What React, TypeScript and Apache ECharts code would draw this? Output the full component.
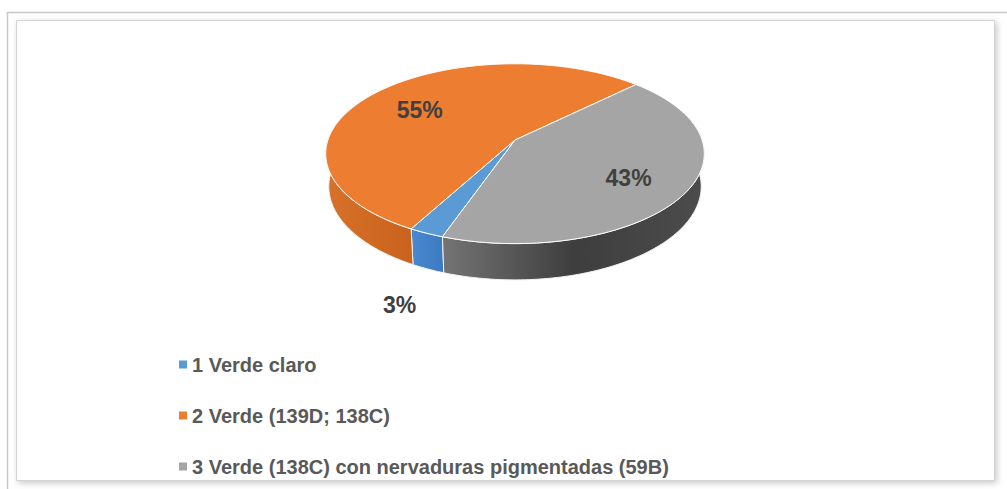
import React, { useEffect, useRef } from 'react';
import * as echarts from 'echarts';

const categories = [
  '1 Verde claro',
  '2 Verde (139D; 138C)',
  '3 Verde (138C) con nervaduras pigmentadas (59B)',
];
const values = [2.6, 54.7, 42.7];
const topColors = ['#5B9BD5', '#ED7D31', '#A5A5A5'];
const sideStops = [
  ['#4a89cf', '#3b79c0'],
  ['#d8722a', '#c8621c'],
  ['#747474', '#3e3e3e', '#4c4c4c'],
];

const START_DEG = 199.4;
const CX = 515;
const CY = 140;
const F = 1085;
const D = 5.8;
const ALPHA = (28 * Math.PI) / 180;
const H = 0.2;

const total = values.reduce((a, b) => a + b, 0);

function sliceRange(i: number): [number, number] {
  let cum = 0;
  for (let k = 0; k < i; k++) cum += values[k];
  const a0 = START_DEG + (cum / total) * 360;
  const a1 = a0 + (values[i] / total) * 360;
  return [a0, a1];
}

function project(u: number, w: number, y: number): number[] {
  const s = Math.sin(ALPHA);
  const c = Math.cos(ALPHA);
  const Yc = y * c + w * s;
  const Zc = D - y * s + w * c;
  return [CX + (F * u) / Zc, CY - (F * Yc) / Zc];
}

function rim(deg: number, r: number, y: number) {
  const t = (deg * Math.PI) / 180;
  return project(r * Math.sin(t), r * Math.cos(t), y);
}

function arcPoints(a0: number, a1: number, y: number) {
  const pts: number[][] = [];
  const n = Math.max(2, Math.ceil(Math.abs(a1 - a0)));
  for (let k = 0; k <= n; k++) {
    pts.push(rim(a0 + ((a1 - a0) * k) / n, 1, y));
  }
  return pts;
}

export default function App() {
  const ref = useRef<HTMLDivElement>(null);
  useEffect(() => {
    if (!ref.current) return;
    const chart = echarts.init(ref.current, undefined, { renderer: 'svg' });

    const topSeries = categories.map((name, i) => ({
      type: 'custom',
      name,
      coordinateSystem: 'none',
      z: 4,
      silent: true,
      itemStyle: { color: topColors[i] },
      data: [values[i]],
      renderItem: (params: any, api: any) => {
        const v = api.value(0);
        const [a0, a1] = sliceRange(i);
        const pts = [project(0, 0, 0), ...arcPoints(a0, a1, 0)];
        const pct = Math.round((v / total) * 100);
        const mid = (a0 + a1) / 2;
        const small = pct < 5;
        const lp = small ? rim(mid, 1.27, -H) : rim(mid, 0.68, 0);
        return {
          type: 'group',
          children: [
            {
              type: 'polygon',
              shape: { points: pts },
              style: { fill: topColors[i], stroke: '#ffffff', lineWidth: 1, lineJoin: 'round' },
            },
            {
              type: 'text',
              x: lp[0],
              y: lp[1] + 4,
              style: {
                text: pct + '%',
                align: 'center',
                verticalAlign: 'middle',
                fill: '#404040',
                font: 'bold 23px "Liberation Sans", Arial, sans-serif',
              },
            },
          ],
        };
      },
    }));

    const sideSeries = categories.map((name, i) => ({
      type: 'custom',
      name,
      coordinateSystem: 'none',
      z: 3,
      silent: true,
      itemStyle: { color: topColors[i] },
      data: [values[i]],
      renderItem: () => {
        const [a0, a1] = sliceRange(i);
        const children: any[] = [];
        for (const k of [-360, 0, 360]) {
          const lo = Math.max(a0, 75 + k);
          const hi = Math.min(a1, 285 + k);
          if (hi > lo) {
            const top = arcPoints(lo, hi, 0);
            const bot = arcPoints(hi, lo, -H);
            const stops = sideStops[i];
            children.push({
              type: 'polygon',
              shape: { points: [...top, ...bot] },
              style: {
                fill: {
                  type: 'linear',
                  x: 0,
                  y: 0,
                  x2: 1,
                  y2: 0,
                  colorStops: stops.map((c, j) => ({ offset: stops.length === 1 ? 0 : j / (stops.length - 1), color: c })),
                },
                stroke: '#f2f2f2',
                lineWidth: 1,
              },
            });
          }
        }
        return { type: 'group', children };
      },
    }));

    chart.setOption({
      animation: false,
      graphic: [
        {
          type: 'rect',
          z: 0,
          shape: { x: 7.5, y: 12.5, width: 1010, height: 490 },
          style: { fill: 'none', stroke: '#c8c8c8', lineWidth: 1.5 },
        },
        {
          type: 'rect',
          z: 0,
          shape: { x: 16.5, y: 20.5, width: 978, height: 460 },
          style: {
            fill: '#ffffff',
            stroke: '#d4d4d4',
            lineWidth: 1,
            shadowBlur: 6,
            shadowOffsetX: 2,
            shadowOffsetY: 2,
            shadowColor: 'rgba(0,0,0,0.22)',
          },
        },
      ],
      legend: {
        orient: 'vertical',
        left: 174,
        top: 349,
        itemWidth: 8,
        itemHeight: 8,
        itemGap: 30,
        icon: 'rect',
        selectedMode: false,
        data: categories.map((n, i) => ({ name: n, itemStyle: { color: topColors[i] } })),
        textStyle: {
          fontSize: 20,
          lineHeight: 21,
          fontWeight: 'bold',
          color: '#595959',
          fontFamily: '"Liberation Sans", Arial, sans-serif',
        },
      },
      series: [...topSeries, ...sideSeries],
    });
    return () => chart.dispose();
  }, []);
  return (
    <div
      ref={ref}
      style={{ position: 'absolute', left: 0, top: 0, width: 1007, height: 489, background: '#ffffff' }}
    />
  );
}
